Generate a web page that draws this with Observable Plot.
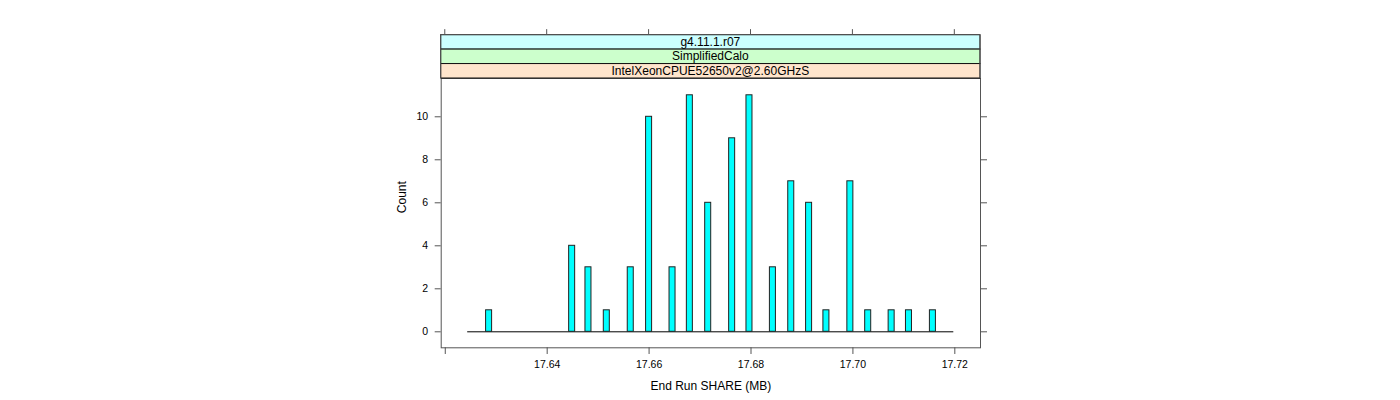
<!DOCTYPE html>
<html>
<head>
<meta charset="utf-8">
<script src="https://cdn.jsdelivr.net/npm/d3@7"></script>
<script src="https://cdn.jsdelivr.net/npm/@observablehq/plot@0.6"></script>
<style>
  html, body { margin: 0; padding: 0; background: white; }
</style>
</head>
<body>
<div id="chart"></div>
<script>
// Histogram bins (bin midpoints, MB) and counts
const binMid = [17.6286, 17.6449, 17.6481, 17.6517, 17.6564, 17.6600, 17.6646, 17.6680, 17.6716, 17.6763,
                17.6797, 17.6843, 17.6879, 17.6914, 17.6948, 17.6995, 17.7030, 17.7076, 17.7110, 17.7157];
const counts = [1, 4, 3, 1, 3, 10, 3, 11, 6, 9, 11, 3, 7, 6, 1, 7, 1, 1, 1, 1];
const binWidth = 0.00118;
// extent of all histogram bins (empty bins drawn as the flat base)
const binRange = [17.6244, 17.7198];

const xTicks = [17.62, 17.64, 17.66, 17.68, 17.70, 17.72];
const yTicks = [0, 2, 4, 6, 8, 10];
const stripLabels = ["g4.11.1.r07", "SimplifiedCalo", "IntelXeonCPUE52650v2@2.60GHzS"];
const stripColors = ["#CCFFFF", "#CCFFCC", "#FFE5CC"];
const xLabel = "End Run SHARE (MB)";
const yLabel = "Count";

const data = binMid.map((m, i) => ({mid: m, count: counts[i]}));

const axisColor = "#555";
const font = "'Liberation Sans', Arial, sans-serif";

const plot = Plot.plot({
  width: 1400,
  height: 400,
  marginLeft: 440.7,
  marginRight: 420,
  marginTop: 78,
  marginBottom: 52.7,
  style: {fontFamily: font, fontSize: "10.5px", background: "white", color: "black"},
  x: {domain: [17.6192, 17.72504]},
  y: {domain: [-0.744, 11.781]},
  marks: [
    Plot.ruleY([0], {x1: binRange[0], x2: binRange[1], stroke: "black", strokeWidth: 1}),
    Plot.rectY(data, {
      x1: d => d.mid - binWidth / 2,
      x2: d => d.mid + binWidth / 2,
      y1: 0, y2: "count",
      fill: "#00FFFF", stroke: "#222", strokeWidth: 1
    }),
    Plot.axisX({anchor: "bottom", ticks: xTicks, tickSize: 6.7, tickPadding: 6,
      tickFormat: d => (Math.abs(d - 17.62) < 1e-9 ? "" : d.toFixed(2)),
      label: null, stroke: axisColor, fill: "black"}),
    Plot.axisY({anchor: "left", ticks: yTicks, tickSize: 6, tickPadding: 7,
      tickFormat: d => String(d), label: null, stroke: axisColor, fill: "black"}),
    Plot.axisY({anchor: "right", ticks: yTicks, tickSize: 6, tickFormat: () => "",
      label: null, stroke: axisColor}),
    Plot.frame({stroke: axisColor, strokeWidth: 1}),
    Plot.text([xLabel], {frameAnchor: "bottom", lineAnchor: "middle", dy: 38.5, fontSize: 12, fill: "black"}),
    Plot.text([yLabel], {frameAnchor: "left", dx: -38.7, rotate: -90, fontSize: 12, fill: "black"})
  ]
});

document.getElementById("chart").appendChild(plot);

// Lattice-style strips above the panel, plus the top axis ticks
const svg = d3.select(plot);
const xs = plot.scale("x");
const ys = plot.scale("y");
const x0 = Math.min(...xs.range), x1 = Math.max(...xs.range);
const panelTop = Math.min(...ys.range);
const stripH = 14.45;
const n = stripLabels.length;
const g = svg.append("g");
stripLabels.forEach((lab, i) => {
  const yTop = panelTop - (n - i) * stripH;
  g.append("rect")
    .attr("x", x0).attr("y", yTop)
    .attr("width", x1 - x0).attr("height", stripH)
    .attr("fill", stripColors[i]).attr("stroke", "#111").attr("stroke-width", 1);
  g.append("text")
    .attr("x", (x0 + x1) / 2).attr("y", yTop + stripH / 2)
    .attr("text-anchor", "middle").attr("dominant-baseline", "central")
    .attr("font-family", font).attr("font-size", 12).attr("fill", "black")
    .text(lab);
});
// side borders of the strip block in axis colour
const stripTop = panelTop - n * stripH;
g.append("line").attr("x1", x0).attr("x2", x0).attr("y1", stripTop).attr("y2", panelTop)
  .attr("stroke", axisColor);
g.append("line").attr("x1", x1).attr("x2", x1).attr("y1", stripTop).attr("y2", panelTop)
  .attr("stroke", axisColor);
g.append("line").attr("x1", x0).attr("x2", x1).attr("y1", stripTop).attr("y2", stripTop)
  .attr("stroke", axisColor);
// top ticks (no labels) above the strips
xTicks.forEach(t => {
  const px = xs.apply(t);
  g.append("line").attr("x1", px).attr("x2", px)
    .attr("y1", stripTop - 5.5).attr("y2", stripTop)
    .attr("stroke", axisColor);
});
</script>
</body>
</html>
